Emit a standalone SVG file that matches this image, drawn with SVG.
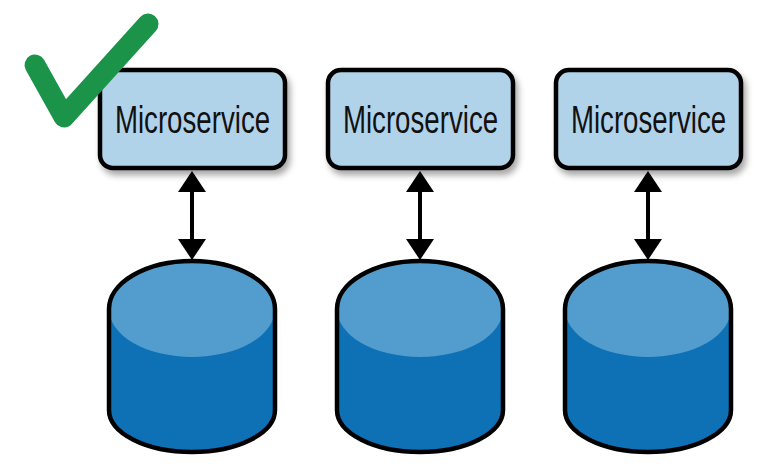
<svg xmlns="http://www.w3.org/2000/svg" width="776" height="467" viewBox="0 0 776 467">
<style>
.box{fill:#b1d3ea;stroke:#000;stroke-width:4.5;filter:url(#sh)}
.lbl{font-family:"Liberation Sans",Arial,sans-serif;font-size:38px;fill:#111;text-anchor:middle}
.body{fill:#0e71b6}
.top{fill:#529dcd}
.outline{fill:none;stroke:#000;stroke-width:4.5}
.conn{stroke:#000;stroke-width:4}
.head{fill:#000}
</style>
<defs>
<filter id="sh" x="-10%" y="-10%" width="130%" height="140%">
<feDropShadow dx="3" dy="5" stdDeviation="3" flood-color="#000" flood-opacity="0.35"/>
</filter>
<g id="arrow">
<line class="conn" x1="0" y1="186" x2="0" y2="244"/>
<polygon class="head" points="0,171 -14,192 14,192"/>
<polygon class="head" points="0,260 -14,239 14,239"/>
</g>
</defs>
<rect width="776" height="467" fill="#fff"/>

<g id="connectors">
<use href="#arrow" x="192"/>
<use href="#arrow" x="420"/>
<use href="#arrow" x="648"/>
</g>

<g id="ms1">
<rect class="box" x="100" y="70" width="185" height="98" rx="13"/>
<text class="lbl" transform="translate(192.5,133) scale(0.8,1)" x="0" y="0" textLength="194" lengthAdjust="spacingAndGlyphs">Microservice</text>
</g>
<g id="ms2">
<rect class="box" x="328" y="70" width="185" height="98" rx="13"/>
<text class="lbl" transform="translate(420.5,133) scale(0.8,1)" x="0" y="0" textLength="194" lengthAdjust="spacingAndGlyphs">Microservice</text>
</g>
<g id="ms3">
<rect class="box" x="556" y="70" width="185" height="98" rx="13"/>
<text class="lbl" transform="translate(648.5,133) scale(0.8,1)" x="0" y="0" textLength="194" lengthAdjust="spacingAndGlyphs">Microservice</text>
</g>

<g id="db1">
<path class="body" d="M109,309 A83,48 0 0 1 275,309 V410 A83,42 0 0 1 109,410 Z"/>
<ellipse class="top" cx="192" cy="309" rx="83" ry="48"/>
<path class="outline" d="M109,309 A83,48 0 0 1 275,309 V410 A83,42 0 0 1 109,410 Z"/>
</g>
<g id="db2">
<path class="body" d="M337,309 A83,48 0 0 1 503,309 V410 A83,42 0 0 1 337,410 Z"/>
<ellipse class="top" cx="420" cy="309" rx="83" ry="48"/>
<path class="outline" d="M337,309 A83,48 0 0 1 503,309 V410 A83,42 0 0 1 337,410 Z"/>
</g>
<g id="db3">
<path class="body" d="M565,309 A83,48 0 0 1 731,309 V410 A83,42 0 0 1 565,410 Z"/>
<ellipse class="top" cx="648" cy="309" rx="83" ry="48"/>
<path class="outline" d="M565,309 A83,48 0 0 1 731,309 V410 A83,42 0 0 1 565,410 Z"/>
</g>

<g id="check">
<polyline points="35,65 64,117 148,24" fill="none" stroke="#1b944a" stroke-width="21" stroke-linecap="round" stroke-linejoin="round"/>
</g>
</svg>
